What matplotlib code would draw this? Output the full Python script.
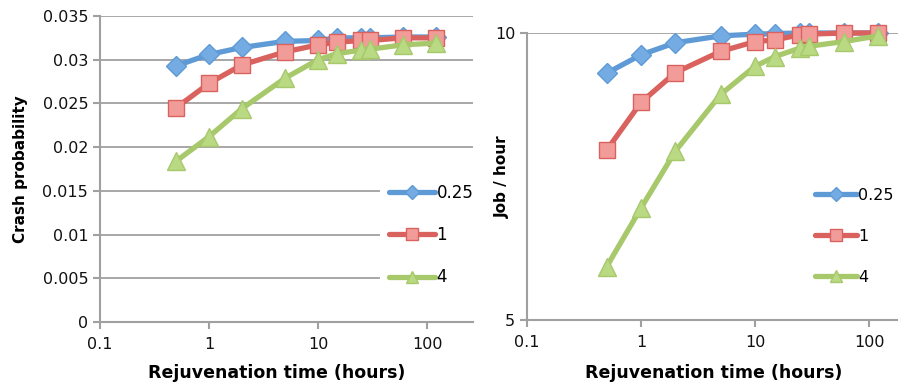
import matplotlib
matplotlib.use("Agg")
import matplotlib.pyplot as plt
from matplotlib.patches import Rectangle
import numpy as np

# ---- data ----
rejuv_hours = [0.5, 1, 2, 5, 10, 15, 25, 30, 60, 120]
series_labels = ["0.25", "1", "4"]

crash_025 = [0.0293, 0.0306, 0.0314, 0.0321, 0.0322, 0.0325, 0.0325, 0.0325, 0.0326, 0.0326]
crash_1   = [0.0245, 0.0273, 0.0294, 0.0309, 0.0317, 0.0320, 0.0322, 0.0322, 0.0325, 0.0325]
crash_4   = [0.0184, 0.0212, 0.0244, 0.0279, 0.0300, 0.0307, 0.0311, 0.0312, 0.0317, 0.0319]

jobs_025 = [9.30, 9.62, 9.83, 9.95, 9.98, 9.99, 10.0, 10.0, 10.0, 10.0]
jobs_1   = [7.96, 8.79, 9.31, 9.68, 9.85, 9.88, 9.97, 9.98, 10.0, 10.0]
jobs_4   = [5.93, 6.95, 7.94, 8.93, 9.42, 9.59, 9.74, 9.77, 9.85, 9.95]

xticks = [0.1, 1, 10, 100]
xtick_labels = ["0.1", "1", "10", "100"]
left_yticks = [0, 0.005, 0.01, 0.015, 0.02, 0.025, 0.03, 0.035]
left_ytick_labels = ["0", "0.005", "0.01", "0.015", "0.02", "0.025", "0.03", "0.035"]
right_yticks = [5, 10]
right_ytick_labels = ["5", "10"]

# ---- styles ----
styles = [
    dict(color="#5E9BD6", marker="D", mfc="#74ABE2", mec="#5E9BD6", ms=10),
    dict(color="#D9625E", marker="s", mfc="#F29C9A", mec="#D9625E", ms=12),
    dict(color="#A7C96B", marker="^", mfc="#B9D982", mec="#A7C96B", ms=12.5),
]
grey = "#A0A0A0"
W, H = 898, 385
fig = plt.figure(figsize=(W / 100, H / 100), dpi=100)
plt.rcParams["font.family"] = ["DejaVu Sans"]


def px_axes(x0, y0, x1, y1):
    return fig.add_axes([x0 / W, 1 - y1 / H, (x1 - x0) / W, (y1 - y0) / H])


def style_axes(ax):
    for s in ["top", "right"]:
        ax.spines[s].set_visible(False)
    for s in ["left", "bottom"]:
        ax.spines[s].set_color(grey)
        ax.spines[s].set_linewidth(1.5)
    ax.tick_params(axis="both", which="major", direction="out", length=5,
                   width=1.5, color=grey, labelsize=11.5, labelcolor="#111111")
    ax.tick_params(axis="x", pad=6)
    ax.set_xscale("log")
    ax.set_xticks(xticks)
    ax.set_xticklabels(xtick_labels)
    ax.minorticks_off()


def make_legend(ax, anchor, fs=12, hl=2.75, ls=1.45):
    leg = ax.legend(loc="upper left", bbox_to_anchor=anchor,
                    frameon=False, fontsize=fs, handlelength=hl, handletextpad=0.1,
                    labelspacing=ls, borderpad=0.0, borderaxespad=0)
    for h in leg.legend_handles:
        h.set_markersize(h.get_markersize() * 0.7)
    leg.set_zorder(5)
    return leg


# left panel
x0L, x1L, y0L, y1L = 100, 473, 16, 322
axL = px_axes(x0L, y0L, x1L, y1L)
style_axes(axL)
dec = 109.0
axL.set_xlim(0.1, 10 ** ((x1L - x0L) / dec - 1))
axL.set_ylim(0, 0.035)
axL.set_yticks(left_yticks)
axL.set_yticklabels(left_ytick_labels)
axL.yaxis.grid(True, color=grey, linewidth=1.3)
axL.set_axisbelow(True)
for vals, st, lab in zip([crash_025, crash_1, crash_4], styles, series_labels):
    axL.plot(rejuv_hours, vals, lw=3.8, label=lab, clip_on=False,
             solid_capstyle="round", markeredgewidth=1.0, **st)
axL.set_xlabel("Rejuvenation time (hours)", fontsize=12.5, fontweight="bold")
axL.xaxis.set_label_coords((277 - x0L) / (x1L - x0L), -(373 - y1L) / (y1L - y0L))
axL.xaxis.label.set_va("center")
axL.set_ylabel("Crash probability", fontsize=11, fontweight="bold")
axL.yaxis.set_label_coords(-(x0L - 21) / (x1L - x0L), 0.5)
axL.yaxis.label.set_va("center")
# white legend background covering the grid (legend area)
axL.add_patch(Rectangle(((380 - x0L) / (x1L - x0L), 1 - (300 - y0L) / (y1L - y0L)),
                        (x1L - 380) / (x1L - x0L), (300 - 165) / (y1L - y0L),
                        transform=axL.transAxes, facecolor="white", edgecolor="none",
                        zorder=1))
make_legend(axL, ((389 - x0L) / (x1L - x0L), 1 - (184 - y0L) / (y1L - y0L)))

# right panel
x0R, x1R, y0R, y1R = 527, 898, 33, 320
axR = px_axes(x0R, y0R, x1R, y1R)
style_axes(axR)
decR = 114.0
axR.set_xlim(0.1, 10 ** ((x1R - x0R) / decR - 1))
axR.set_ylim(5, 10)
axR.set_yticks(right_yticks)
axR.set_yticklabels(right_ytick_labels)
axR.axhline(10, color=grey, lw=1.3, zorder=0.5)
for vals, st, lab in zip([jobs_025, jobs_1, jobs_4], styles, series_labels):
    axR.plot(rejuv_hours, vals, lw=3.8, label=lab, clip_on=False,
             solid_capstyle="round", markeredgewidth=1.0, **st)
axR.set_xlabel("Rejuvenation time (hours)", fontsize=12.5, fontweight="bold")
axR.xaxis.set_label_coords((714 - x0R) / (x1R - x0R), -(373 - y1R) / (y1R - y0R))
axR.xaxis.label.set_va("center")
axR.set_ylabel("Job / hour", fontsize=11, fontweight="bold")
axR.yaxis.set_label_coords(-(x0R - 502) / (x1R - x0R), 0.5)
axR.yaxis.label.set_va("center")
make_legend(axR, ((815 - x0R) / (x1R - x0R), 1 - (188 - y0R) / (y1R - y0R)),
            fs=11.5, hl=2.6, ls=1.62)

fig.savefig("out.png", dpi=100, facecolor="white")
